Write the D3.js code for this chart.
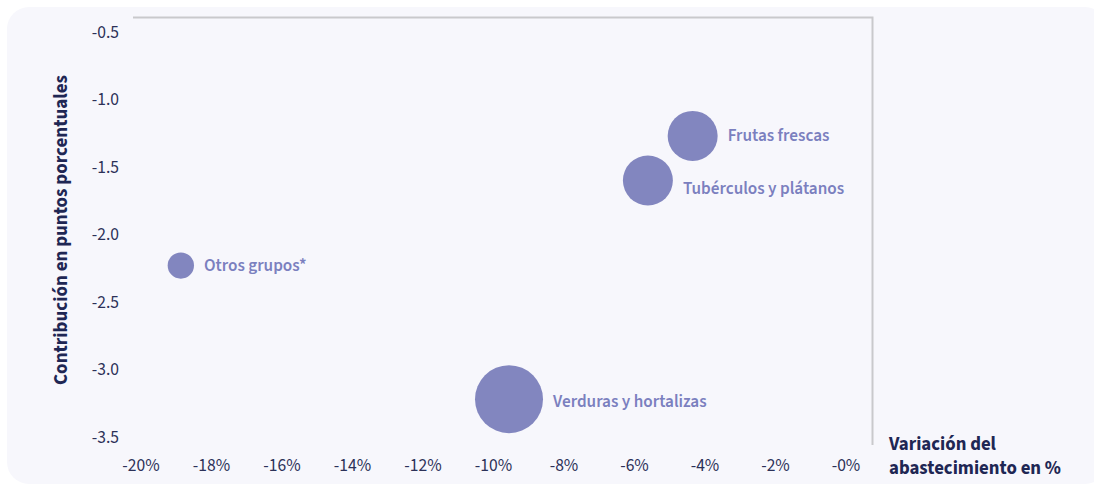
<!DOCTYPE html>
<html><head><meta charset="utf-8">
<script src="https://cdn.jsdelivr.net/npm/d3@7"></script>
<style>
html,body{margin:0;padding:0;background:#fff;}
svg{display:block;font-family:"Source Sans Pro","Source Sans 3",Lato,"Noto Sans",sans-serif;}
</style></head>
<body><svg id="c" width="1094" height="485"></svg>
<script>
const categories = ["Frutas frescas","Tubérculos y plátanos","Otros grupos*","Verduras y hortalizas"];
const variation = [-4.35, -5.62, -18.87, -9.56];      // x, %
const contribution = [-1.27, -1.60, -2.23, -3.22];    // y, puntos porcentuales
const weight = [54, 54, 15, 100];                     // bubble size
const labelDy = [0, 8, 0, 2];
const xTicks = [-20,-18,-16,-14,-12,-10,-8,-6,-4,-2,0];
const xTickLabels = ["-20%","-18%","-16%","-14%","-12%","-10%","-8%","-6%","-4%","-2%","-0%"];
const yTicks = [-0.5,-1.0,-1.5,-2.0,-2.5,-3.0,-3.5];
const yTickLabels = ["-0.5","-1.0","-1.5","-2.0","-2.5","-3.0","-3.5"];

const svg = d3.select("#c");
svg.append("rect").attr("x",7).attr("y",7).attr("width",1100).attr("height",477).attr("rx",22).attr("fill","#f7f7fc");

const x = d3.scaleLinear().domain([-20,0]).range([141,846]);
const y = d3.scaleLinear().domain([-0.5,-3.5]).range([32,437]);
const r = d3.scaleSqrt().domain([0,100]).range([0,34]);

// frame
svg.append("path").attr("d","M133,17.5H872.5V445").attr("fill","none").attr("stroke","#c9c9cc").attr("stroke-width",2);

const tickColor = "#2c3158";
svg.append("g").selectAll("text").data(yTicks).join("text")
  .attr("x",119).attr("y",d=>y(d)).attr("text-anchor","end").attr("dominant-baseline","central")
  .attr("font-size",17.5).attr("fill",tickColor).text((d,i)=>yTickLabels[i]);
svg.append("g").selectAll("text").data(xTicks).join("text")
  .attr("x",d=>x(d)).attr("y",465).attr("text-anchor","middle").attr("dominant-baseline","central")
  .attr("font-size",17.5).attr("fill",tickColor).text((d,i)=>xTickLabels[i]);

svg.append("text").attr("transform","translate(67,230) rotate(-90)").attr("text-anchor","middle")
  .attr("font-size",19).attr("font-weight",700).attr("fill","#1f2754").text("Contribución en puntos porcentuales");
const xt = svg.append("text").attr("x",889).attr("font-size",18.8).attr("font-weight",700).attr("fill","#1f2754");
xt.append("tspan").attr("x",889).attr("y",450).text("Variación del");
xt.append("tspan").attr("x",889).attr("y",474).text("abastecimiento en %");

const data = categories.map((c,i)=>({c, vx:variation[i], vy:contribution[i], w:weight[i], dy:labelDy[i]}));
const g = svg.append("g");
g.selectAll("circle").data(data).join("circle")
  .attr("cx",d=>x(d.vx)).attr("cy",d=>y(d.vy)).attr("r",d=>r(d.w)).attr("fill","#8286bf");
g.selectAll("text").data(data).join("text")
  .attr("x",d=>x(d.vx)+r(d.w)+10).attr("y",d=>y(d.vy)+d.dy).attr("dominant-baseline","central")
  .attr("font-size",17.2).attr("font-weight",600).attr("fill","#7b80bf").text(d=>d.c);
</script></body></html>
